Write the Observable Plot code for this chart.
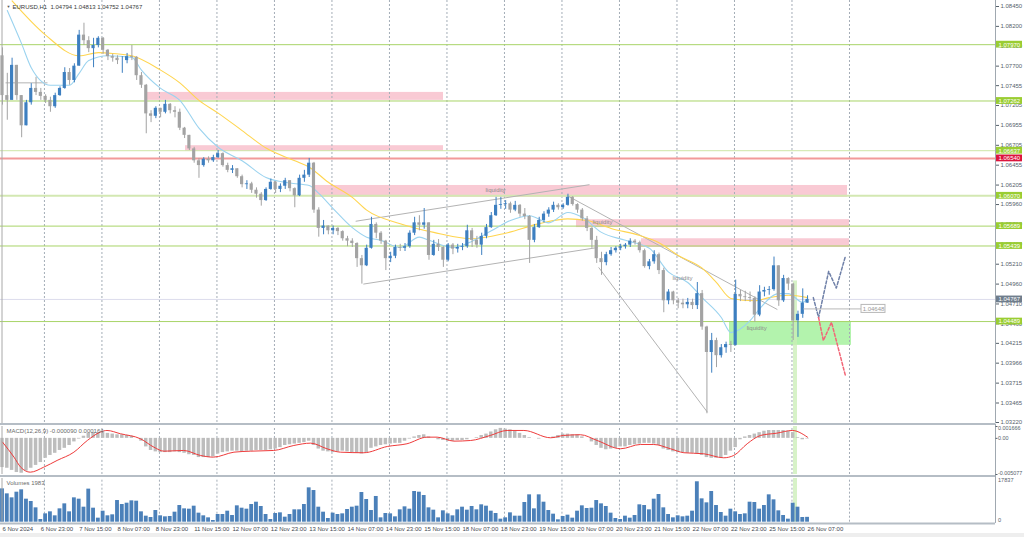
<!DOCTYPE html>
<html><head><meta charset="utf-8">
<script src="https://cdn.jsdelivr.net/npm/d3@7"></script>
<script src="https://cdn.jsdelivr.net/npm/@observablehq/plot@0.6"></script>
<style>
html,body{margin:0;padding:0;overflow:hidden;background:#fff;}
#wrap{position:relative;width:1024px;height:537px;overflow:hidden;background:#fff;font-family:"Liberation Sans",Arial,sans-serif;}
#wrap > div{position:absolute;left:0;}
.sep{background:#b5bdc5;width:995px;height:2px;}
</style></head><body><div id="wrap">
<div id="main" style="top:0"></div>
<div class="sep" style="top:423px"></div>
<div id="macd" style="top:425px"></div>
<div class="sep" style="top:475px"></div>
<div id="vol" style="top:477px"></div>
<div style="top:533px;width:1024px;height:4px;background:#eeeeee"></div>
</div>
<script>
// ---------- DATA (2-hour bars, index 0 = 6 Nov 2024 07:00) ----------
const firstOpen = 1.0783;
const closes = [1.0733,1.0727,1.0771,1.0733,1.0695,1.0724,1.0742,1.0737,1.0732,1.0727,
1.0719,1.0733,1.0742,1.0762,1.0752,1.0770,1.0809,1.0802,1.0792,1.0796,
1.0805,1.0790,1.0782,1.0780,1.0777,1.0777,1.0782,1.0781,1.0758,1.0746,
1.0710,1.0707,1.0717,1.0712,1.0722,1.0714,1.0712,1.0692,1.0683,1.0666,
1.0651,1.0645,1.0653,1.0651,1.0655,1.0660,1.0645,1.0639,1.0641,1.0631,
1.0621,1.0622,1.0614,1.0609,1.0601,1.0615,1.0624,1.0615,1.0619,1.0626,
1.0616,1.0607,1.0629,1.0633,1.0648,1.0589,1.0566,1.0569,1.0563,1.0566,
1.0562,1.0553,1.0550,1.0547,1.0528,1.0519,1.0541,1.0571,1.0560,1.0550,
1.0528,1.0531,1.0542,1.0541,1.0543,1.0560,1.0573,1.0570,1.0573,1.0532,
1.0546,1.0542,1.0526,1.0545,1.0540,1.0542,1.0543,1.0563,1.0551,1.0545,
1.0556,1.0567,1.0582,1.0595,1.0596,1.0597,1.0589,1.0595,1.0584,1.0581,
1.0551,1.0567,1.0576,1.0584,1.0589,1.0595,1.0592,1.0595,1.0605,1.0596,
1.0589,1.0578,1.0566,1.0551,1.0528,1.0523,1.0533,1.0538,1.0541,1.0543,
1.0545,1.0550,1.0548,1.0538,1.0518,1.0524,1.0533,1.0513,1.0475,1.0486,
1.0475,1.0472,1.0470,1.0473,1.0469,1.0484,1.0442,1.0410,1.0425,1.0406,
1.0416,1.0420,1.0419,1.0483,1.0480,1.0479,1.0478,1.0457,1.0486,1.0488,
1.0489,1.0519,1.0475,1.0503,1.0496,1.0450,1.0458,1.0472,1.04767];
const highs = [1.0793,1.0761,1.0780,1.0771,1.0733,1.0727,1.0748,1.0756,1.0742,1.0734,
1.0731,1.0736,1.0744,1.0768,1.0767,1.0773,1.0815,1.0824,1.0807,1.0805,
1.0807,1.0806,1.0791,1.0785,1.0783,1.0782,1.0786,1.0796,1.0782,1.0762,
1.0747,1.0714,1.0719,1.0717,1.0727,1.0723,1.0719,1.0716,1.0693,1.0683,
1.0668,1.0654,1.0655,1.0656,1.0658,1.0664,1.0661,1.0648,1.0645,1.0641,
1.0633,1.0626,1.0624,1.0617,1.0611,1.0617,1.0628,1.0625,1.0622,1.0629,
1.0626,1.0617,1.0633,1.0639,1.0654,1.0649,1.0592,1.0576,1.0569,1.0569,
1.0567,1.0563,1.0556,1.0553,1.0548,1.0532,1.0545,1.0580,1.0573,1.0562,
1.0551,1.0536,1.0545,1.0546,1.0547,1.0563,1.0580,1.0582,1.0591,1.0573,
1.0551,1.0552,1.0543,1.0547,1.0547,1.0546,1.0547,1.0570,1.0566,1.0556,
1.0560,1.0571,1.0586,1.0605,1.0605,1.0601,1.0599,1.0600,1.0596,1.0591,
1.0582,1.0571,1.0580,1.0587,1.0592,1.0599,1.0597,1.0597,1.0609,1.0606,
1.0597,1.0591,1.0581,1.0567,1.0556,1.0536,1.0536,1.0542,1.0543,1.0546,
1.0547,1.0553,1.0552,1.0550,1.0540,1.0527,1.0538,1.0535,1.0516,1.0489,
1.0487,1.0478,1.0477,1.0478,1.0477,1.0498,1.0488,1.0443,1.0434,1.0428,
1.0420,1.0423,1.0424,1.0501,1.0488,1.0487,1.0486,1.0480,1.0494,1.0492,
1.0493,1.0530,1.0516,1.0507,1.0504,1.0497,1.0462,1.0490,1.04813];
const lows = [1.0721,1.0702,1.0727,1.0727,1.0680,1.0695,1.0721,1.0733,1.0727,1.0723,
1.0712,1.0717,1.0732,1.0741,1.0746,1.0749,1.0770,1.0796,1.0787,1.0768,
1.0793,1.0785,1.0777,1.0775,1.0772,1.0761,1.0773,1.0777,1.0752,1.0742,
1.0685,1.0699,1.0704,1.0705,1.0710,1.0710,1.0705,1.0689,1.0679,1.0664,
1.0648,1.0629,1.0643,1.0648,1.0649,1.0654,1.0643,1.0636,1.0635,1.0629,
1.0617,1.0615,1.0610,1.0604,1.0594,1.0600,1.0614,1.0610,1.0611,1.0615,
1.0612,1.0592,1.0606,1.0624,1.0630,1.0585,1.0555,1.0558,1.0558,1.0558,
1.0557,1.0550,1.0543,1.0542,1.0517,1.0496,1.0518,1.0540,1.0553,1.0546,
1.0513,1.0523,1.0528,1.0537,1.0537,1.0541,1.0557,1.0563,1.0565,1.0526,
1.0531,1.0537,1.0517,1.0524,1.0533,1.0535,1.0538,1.0541,1.0542,1.0541,
1.0532,1.0553,1.0566,1.0581,1.0590,1.0590,1.0585,1.0587,1.0580,1.0577,
1.0522,1.0548,1.0566,1.0573,1.0580,1.0586,1.0589,1.0590,1.0594,1.0594,
1.0585,1.0575,1.0562,1.0541,1.0522,1.0507,1.0519,1.0531,1.0535,1.0538,
1.0540,1.0542,1.0545,1.0535,1.0516,1.0514,1.0521,1.0508,1.0460,1.0470,
1.0470,1.0465,1.0465,1.0465,1.0464,1.0464,1.0438,1.0333,1.0384,1.0391,
1.0403,1.0409,1.0410,1.0418,1.0474,1.0474,1.0473,1.0448,1.0455,1.0480,
1.0482,1.0487,1.0468,1.0473,1.0488,1.0425,1.0429,1.0453,1.04752];
const volumes = [13610,11570,9940,12250,13210,9400,8450,5860,1100,3410,
4230,2600,5450,7490,4230,9940,9400,6130,13500,5720,
1650,4500,2600,3010,8850,7220,7760,8720,8580,4230,
2460,1920,4770,2600,2190,2330,4090,6810,5450,5320,
6540,3690,2600,1780,690,3140,3140,4500,2730,6680,
5720,5320,7220,8170,6410,3140,1100,3550,3820,2050,
3140,5050,5050,7220,14020,12930,6130,4090,1510,3690,
3140,3410,5180,6130,6540,12120,9260,4770,10500,1780,
3550,3410,2190,5050,6270,5320,12530,12250,10890,5860,
4910,1780,4640,3410,2600,5050,6130,4910,
6410,5050,7090,6540,4500,3550,1240,1780,3820,2460,
2460,8040,11170,5450,11170,8170,4770,3280,970,2330,
2870,1650,4500,6680,5590,5720,8850,7490,6410,3690,
1510,1100,2460,1650,2730,7090,6810,5050,9400,11300,
5860,3140,1780,2600,2190,2460,4500,16500,9530,7900,
12530,6810,3960,2460,5320,4230,3140,3410,8170,8040,
5320,6810,11170,9130,4640,2730,1240,7760,6130,1920,1983];
const macdHist = [-0.0041,-0.0042,-0.0045,-0.0048,-0.0049,-0.0046,-0.0042,-0.0038,-0.0034,-0.0028,
-0.0024,-0.0021,-0.0017,-0.0014,-0.0010,-0.0005,-0.0001,0.0003,0.0007,0.0008,
0.0008,0.0008,0.0007,0.0006,0.0005,0.0005,0.0004,0.0003,0.0000,-0.0004,
-0.0012,-0.0017,-0.0019,-0.0020,-0.0020,-0.0020,-0.0019,-0.0020,-0.0021,-0.0023,
-0.0024,-0.0027,-0.0027,-0.0027,-0.0026,-0.0022,-0.0020,-0.0019,-0.0018,-0.0018,
-0.0019,-0.0018,-0.0018,-0.0017,-0.0017,-0.0017,-0.0016,-0.0015,-0.0013,-0.0010,
-0.0009,-0.0008,-0.0007,-0.0006,-0.0004,-0.0010,-0.0015,-0.0018,-0.0019,-0.0020,
-0.0019,-0.0018,-0.0019,-0.0020,-0.0021,-0.0022,-0.0020,-0.0014,-0.0012,-0.0010,
-0.0009,-0.0008,-0.0007,-0.0007,-0.0004,-0.0001,0.0002,0.0004,0.0005,0.0002,
0.0000,-0.0002,-0.0003,-0.0004,-0.0004,-0.0003,-0.0003,-0.0002,0.0000,0.0001,
0.0004,0.0006,0.0009,0.0012,0.0014,0.0013,0.0012,0.0010,0.0007,0.0004,
0.0001,0.0000,-0.0001,0.0000,0.0000,0.0002,0.0004,0.0006,0.0006,0.0005,
0.0005,0.0002,0.0000,-0.0005,-0.0010,-0.0014,-0.0016,-0.0015,-0.0014,-0.0012,
-0.0012,-0.0010,-0.0009,-0.0008,-0.0007,-0.0007,-0.0008,-0.0010,-0.0015,-0.0017,
-0.0019,-0.0020,-0.0020,-0.0021,-0.0021,-0.0022,-0.0024,-0.0027,-0.0028,-0.0028,
-0.0027,-0.0024,-0.0018,-0.0013,-0.0002,0.0002,0.0004,0.0006,0.0008,0.0010,
0.0011,0.0011,0.0011,0.0011,0.0010,0.0008,0.0001,-0.0002,-0.00009];
const macdSignal = [[0,-0.00053],[2.4,-0.00264],[3.8,-0.00405],[5.8,-0.00475],[8.6,-0.00405],[11.4,-0.0031],[14.9,-0.00194],[17.7,-0.0003],[20.4,0.00087],[21.8,0.00111],[24.6,0.00065],[28.8,-0.00006],[31.6,-0.00124],[33.7,-0.0018],[37.8,-0.0017],[41.3,-0.0024],[44,-0.00264],[48.3,-0.00194],[51.7,-0.0018],[56.6,-0.0017],[60.8,-0.001],[64.3,-0.00067],[67.7,-0.00146],[70.5,-0.00194],[75.4,-0.00202],[80.3,-0.00114],[84.4,-0.00076],[88.6,0.00017],[90.7,0.00017],[94.2,-0.00039],[97.7,-0.0003],[101.8,0.00041],[105.3,0.00111],[108.8,0.00111],[114.4,0.00008],[117.1,0.00041],[120.6,0.00051],[124.1,-0.0003],[129,-0.00146],[133.1,-0.00086],[135.9,-0.00086],[139.4,-0.00146],[142.2,-0.00202],[146.3,-0.00216],[150.5,-0.00273],[152.6,-0.0024],[155.4,-0.00076],[158.2,0.00041],[161.6,0.00073],[164.8,0.00111],[168,0.000164]];
const maSlow = [[2,1.0852],[9,1.0809],[16,1.0783],[20,1.0787],[23,1.0786],[27,1.0783],[33,1.0765],[37,1.0749],[41,1.0727],[45,1.0711],[50,1.0689],[55,1.0667],[61,1.0651],[64,1.0643],[68,1.0624],[73,1.0605],[76,1.0589],[83,1.0572],[90,1.0561],[98,1.0553],[105,1.0560],[112,1.0572],[118,1.0578],[122,1.0576],[127,1.0566],[133,1.0557],[137,1.0548],[141,1.0532],[146,1.0516],[149,1.0498],[152,1.0478],[157,1.0475],[160,1.0479],[164,1.0482],[168,1.0479]];
const maFast = [[1,1.0840],[4,1.0798],[6,1.0768],[10,1.0746],[14,1.0746],[16,1.0761],[18,1.0777],[22,1.0783],[27,1.0781],[29,1.0765],[33,1.0742],[37,1.0727],[41,1.0692],[45,1.0668],[50,1.0651],[55,1.0630],[60,1.0623],[64,1.0620],[66,1.0610],[69,1.0591],[73,1.0567],[76,1.0555],[79,1.0551],[83,1.0542],[87,1.0555],[89,1.0551],[94,1.0542],[98,1.0550],[102,1.0563],[106,1.0576],[110,1.0582],[114,1.0573],[118,1.0586],[121,1.0580],[125,1.0561],[130,1.0551],[135,1.0541],[139,1.0511],[143,1.0498],[146,1.0479],[150,1.0454],[152,1.0435],[156,1.0450],[158,1.0465],[162,1.0484],[164,1.0484],[167,1.0473],[168,1.0478]];
const timeLabels = ["6 Nov 2024","6 Nov 23:00","7 Nov 15:00","8 Nov 07:00","8 Nov 23:00","11 Nov 15:00","12 Nov 07:00","12 Nov 23:00","13 Nov 15:00","14 Nov 07:00","14 Nov 23:00","15 Nov 15:00","18 Nov 07:00","18 Nov 23:00","19 Nov 15:00","20 Nov 07:00","20 Nov 23:00","21 Nov 15:00","22 Nov 07:00","22 Nov 23:00","25 Nov 15:00","26 Nov 07:00"];
const priceTicks = [1.0845,1.0820,1.0795,1.0770,1.07455,1.07205,1.06955,1.06705,1.06455,1.06205,1.0596,1.0571,1.0546,1.0521,1.0496,1.0471,1.0446,1.04215,1.03966,1.03715,1.03465,1.0322];
const levels = [{v:1.07970,kind:"g"},{v:1.07262,kind:"g"},{v:1.06637,kind:"gl"},{v:1.06540,kind:"r"},{v:1.06070,kind:"gl2"},{v:1.05689,kind:"g"},{v:1.05439,kind:"g"},{v:1.04489,kind:"g"}];
const lastPrice = 1.04767;
const markPrice = {v:1.04648, j1:167.15, j2:179.26};
const supplyZones = [{j1:29.84,j2:92.03,p1:1.0727,p2:1.0737},{j1:38.19,j2:92.03,p1:1.0663,p2:1.0670},{j1:64.69,j2:176.34,p1:1.0605,p2:1.0620},{j1:119.78,j2:176.75,p1:1.0567,p2:1.0577},{j1:133.35,j2:176.75,p1:1.0542,p2:1.0553}];
const demandZones = [{j1:151.71,j2:177.17,p1:1.0419,p2:1.0449}];
const band = {j1:165.07,j2:165.90,pTop:1.0500};
const trendLines = [{a:[73.7,1.0575],b:[122.5,1.0621]},{a:[75.3,1.0496],b:[124.2,1.0542]},{a:[117.9,1.0607],b:[161.7,1.0464]},{a:[124.4,1.0517],b:[147.1,1.0335]},{a:[0.63,1.0749],b:[9.39,1.0749]}];
const projUp = [[169.2,1.0479],[170.3,1.0454],[172.4,1.0512],[174.0,1.0491],[175.9,1.0531]];
const projDown = [[170.3,1.0454],[171.3,1.0425],[173.0,1.0448],[175.9,1.0381]];
const notes = [{j:100.8,v:1.0614,t:"liquidity"},{j:123.1,v:1.0574,t:"liquidity"},{j:139.8,v:1.0504,t:"liquidity"},{j:155.3,v:1.0441,t:"liquidity"}];
const header = "EURUSD,H1  1.04794 1.04813 1.04752 1.04767";
const macdTitle = "MACD(12,26,9) -0.000090 0.000164";
const volTitle = "Volumes 1983";
const macdTicks = [{v:0.001666,t:"0.001666",a:"top"},{v:0,t:"0.00",a:"middle"},{v:-0.005077,t:"-0.005077",a:"bottom"}];
const volTicks = [{v:17837,t:"17837",a:"top"},{v:0,t:"0",a:"bottom"}];

// ---------- LAYOUT ----------
const X0 = 2, BAR = 4.792, PR = 995, W = 1024;
const jAt = px => (px - X0) / BAR;
const xOpt = {domain:[jAt(0), jAt(PR)], range:[0, PR], axis: null};
const FONT = "Liberation Sans, Arial, sans-serif";
const UP = "#3d7fc0", DN = "#a3a3a3", GRIDC = "#a4adb7", AXC = "#56616b";
const gridJ = d3.range(15).map(k => 8.75 + 12*k);
const PY = (1.0845 - 1.0322) / 416;
const yMainDom = [1.0322 - 3*PY, 1.0845 + 6*PY];
const bars = closes.map((c, i) => {
  const o = i === 0 ? firstOpen : closes[i-1];
  return {i, o, c, h: Math.max(highs[i], o, c), l: Math.min(lows[i], o, c), up: c >= o};
});
const lvlStyle = {g:{s:"#a8d468",w:1}, gl:{s:"#cde5a6",w:1}, gl2:{s:"#d3e8b2",w:2}, r:{s:"#f29a9a",w:2}};
const boxFill = k => k === "r" ? "#dc143c" : "#9acd32";
const common = {width: W, marginLeft: 0, marginRight: W - PR, marginTop: 0, marginBottom: 0,
  style: {fontFamily: FONT, background: "transparent", color: AXC, overflow: "visible"}};
const anchoredText = (ticks, opts) => ["top","middle","bottom"].map(a =>
  Plot.text(ticks.filter(d => d.a === a), {...opts, lineAnchor: a}));

const main = Plot.plot({
  ...common, height: 423,
  x: xOpt, y: {domain: yMainDom, range: [425, 0]},
  marks: [
    Plot.rect(supplyZones, {x1:"j1", x2:"j2", y1:"p1", y2:"p2", fill:"#f9cad4"}),
    Plot.rect(demandZones, {x1:"j1", x2:"j2", y1:"p1", y2:"p2", fill:"#b3f3ad"}),
    Plot.rect([band], {x1:"j1", x2:"j2", y1:yMainDom[0], y2:"pTop", fill:"#c9edb6", fillOpacity:0.75}),
    Plot.ruleX(gridJ, {stroke: GRIDC, strokeDasharray: "2,2"}),
    Plot.ruleY(levels.filter(d => lvlStyle[d.kind].w === 1), {y:"v", stroke: d => lvlStyle[d.kind].s, strokeWidth: 1}),
    Plot.ruleY(levels.filter(d => lvlStyle[d.kind].w === 2), {y:"v", stroke: d => lvlStyle[d.kind].s, strokeWidth: 2}),
    Plot.ruleY([lastPrice], {stroke:"#dcdcec"}),
    Plot.link(trendLines, {x1: d=>d.a[0], y1: d=>d.a[1], x2: d=>d.b[0], y2: d=>d.b[1], stroke:"#b3b3b3"}),
    Plot.line(maSlow, {x: d=>d[0], y: d=>d[1], stroke:"#ffd54f", strokeWidth:1.1, curve:"monotone-x"}),
    Plot.line(maFast, {x: d=>d[0], y: d=>d[1], stroke:"#9bd3ef", strokeWidth:1.1, curve:"monotone-x"}),
    Plot.ruleX(bars, {x:"i", y1:"l", y2:"h", stroke: d => d.up ? UP : DN, strokeWidth: 1}),
    Plot.rect(bars, {x1: d=>d.i-0.33, x2: d=>d.i+0.33, y1:"o", y2:"c", fill: d => d.up ? UP : DN}),
    Plot.line(projUp, {x: d=>d[0], y: d=>d[1], stroke:"#6f80a8", strokeWidth:1.5, strokeDasharray:"3,2"}),
    Plot.line(projDown, {x: d=>d[0], y: d=>d[1], stroke:"#f26677", strokeWidth:1.5, strokeDasharray:"3,2"}),
    Plot.text(notes, {x:"j", y:"v", text:"t", textAnchor:"start", fontSize:6, fill:"#8c8c8c"}),
    Plot.link([markPrice], {x1:"j1", x2:"j2", y1:"v", y2:"v", stroke:"#b8b8b8"}),
    Plot.rect([markPrice], {x1: d=>d.j2, x2: d=>d.j2 + 5.0, y1: d=>d.v - 4*PY, y2: d=>d.v + 4*PY, fill:"#fff", stroke:"#b8b8b8"}),
    Plot.text([markPrice], {x: d=>d.j2 + 2.5, y:"v", text: d=>d.v.toFixed(5), fontSize:6, fill:"#999"}),
    Plot.ruleX([jAt(1.5)], {stroke:"#a8a8a8"}),
    Plot.ruleX([jAt(PR)], {stroke:"#a0a8b0"}),
    Plot.axisY(priceTicks, {anchor:"right", tickSize:3, tickPadding:2, tickFormat: d => d.toFixed(5), fontSize:6, label:null}),
    Plot.rect(levels, {x1: jAt(996), x2: jAt(1022), y1: d=>d.v - 3.4*PY, y2: d=>d.v + 3.4*PY, fill: d => boxFill(d.kind)}),
    Plot.text(levels, {x: jAt(998), y:"v", text: d=>d.v.toFixed(5), textAnchor:"start", fontSize:6, fill:"#fff"}),
    Plot.rect([lastPrice], {x1: jAt(996), x2: jAt(1022), y1: d=>d - 3.4*PY, y2: d=>d + 3.4*PY, fill:"#6f7d8c"}),
    Plot.text([lastPrice], {x: jAt(998), y: d=>d, text: d=>d.toFixed(5), textAnchor:"start", fontSize:6, fill:"#fff"}),
    Plot.text(["\u25BC"], {frameAnchor:"top-left", dx:6, dy:5, fontSize:4, fill:"#555", lineAnchor:"top"}),
    Plot.text([header], {frameAnchor:"top-left", dx:12, dy:4, textAnchor:"start", lineAnchor:"top", fontSize:6, fill:"#3a3a3a"})
  ]
});
document.getElementById("main").appendChild(main);

const macd = Plot.plot({
  ...common, height: 50,
  x: xOpt, y: {domain:[-0.005077, 0.001666], range:[49, 1], axis: null},
  marks: [
    Plot.rect([band], {x1:"j1", x2:"j2", y1:-0.005077, y2:0.001666, fill:"#c9edb6", fillOpacity:0.75}),
    Plot.ruleX(gridJ, {y1:-0.005077, y2:0.001666, stroke: GRIDC, strokeDasharray: "2,2"}),
    Plot.rect(macdHist.map((v,i)=>({i,v})), {x1: d=>d.i-0.36, x2: d=>d.i+0.36, y1: 0, y2: "v", fill:"#bdbdbd"}),
    Plot.line(macdSignal, {x: d=>d[0], y: d=>d[1], stroke:"#ee3b3b", strokeWidth:1, curve:"monotone-x"}),
    Plot.ruleX([jAt(1.5)], {y1:-0.005077, y2:0.001666, stroke:"#a8a8a8"}),
    Plot.ruleX([jAt(PR)], {y1:-0.006, y2:0.002, stroke:"#a0a8b0"}),
    Plot.link(macdTicks, {x1: jAt(PR), x2: jAt(PR+2), y1:"v", y2:"v", stroke: AXC}),
    ...anchoredText(macdTicks, {x: jAt(PR+2.5), y:"v", text:"t", textAnchor:"start", fontSize:5.4, fill: AXC}),
    Plot.text([macdTitle], {frameAnchor:"top-left", dx:6, dy:3, textAnchor:"start", lineAnchor:"top", fontSize:6, fill:"#6a6a6a"})
  ]
});
document.getElementById("macd").appendChild(macd);

const vol = Plot.plot({
  ...common, height: 60,
  x: xOpt, y: {domain:[0, 17837], range:[44.7, 1], axis: null},
  marks: [
    Plot.rect([band], {x1:"j1", x2:"j2", y1:0, y2:17837, fill:"#c9edb6", fillOpacity:0.75}),
    Plot.ruleX(gridJ, {y1:0, y2:17837, stroke: GRIDC, strokeDasharray: "2,2"}),
    Plot.rect(volumes.map((v,i)=>({i,v})), {x1: d=>d.i-0.4, x2: d=>d.i+0.4, y1: 0, y2: "v", fill:"#4b80b9"}),
    Plot.ruleY([0], {stroke:"#b5bdc5", strokeWidth:2, dy:1.3}),
    Plot.ruleX([jAt(1.5)], {y1:0, y2:17837, stroke:"#a8a8a8"}),
    Plot.ruleX([jAt(PR)], {y1:-500, y2:18500, stroke:"#a0a8b0"}),
    ...anchoredText(volTicks, {x: jAt(PR+2.5), y:"v", text:"t", textAnchor:"start", fontSize:5.6, fill: AXC}),
    Plot.text(timeLabels, {x: (d,i) => i*8, text: d=>d, frameAnchor:"bottom", dy:-8.5, lineAnchor:"middle", textAnchor:"start", fontSize:6, fill:"#3f4850"}),
    Plot.text([volTitle], {frameAnchor:"top-left", dx:6, dy:3, textAnchor:"start", lineAnchor:"top", fontSize:6, fill:"#6a6a6a"})
  ]
});
document.getElementById("vol").appendChild(vol);
</script></body></html>
